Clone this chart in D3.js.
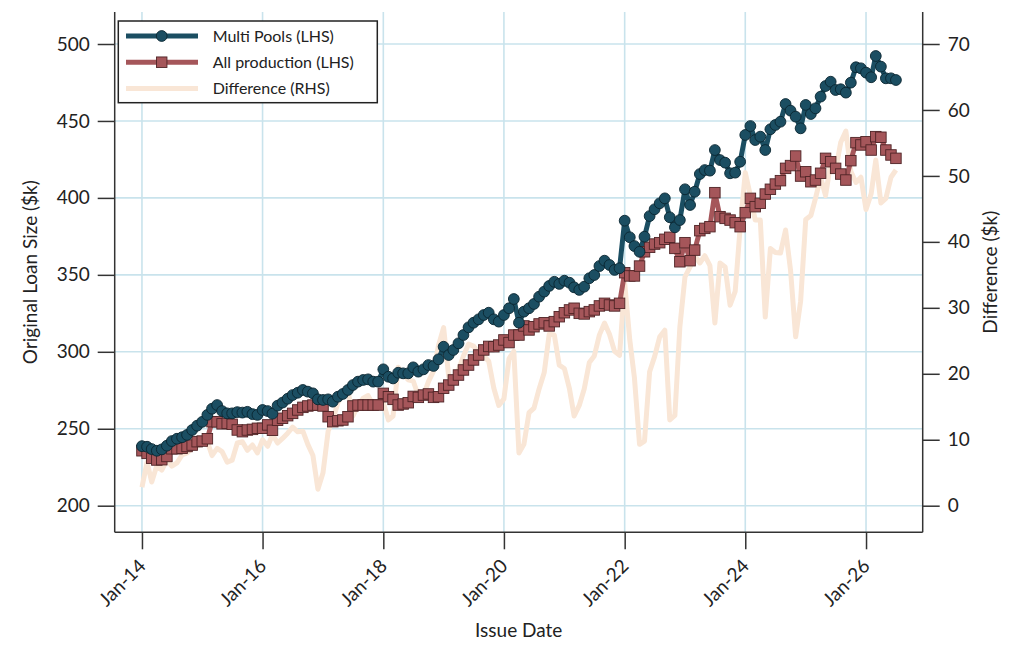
<!DOCTYPE html>
<html lang="en">
<head>
<meta charset="UTF-8">
<title>Original Loan Size: Multi Pools vs All production</title>
<script src="https://d3js.org/d3.v7.min.js"></script>
<style>
  html, body { margin: 0; padding: 0; background: #fff; }
  svg text { font-family: Lato, "Open Sans", "DejaVu Sans", sans-serif; fill: #222; }
</style>
</head>
<body>
<div id="chart"></div>
<script>
// Monthly series, Jan-14 .. Jul-26 ($k)
const firstMonth = new Date(2014, 0, 1);
const lastMonth = new Date(2026, 6, 1);

const multiPools = [
  238.7, 238.3, 236.8, 235.7, 236.6, 239.0, 242.0, 243.5, 244.5, 246.0, 249.2, 252.0,
  254.5, 259.0, 263.0, 265.4, 261.5, 260.0, 260.0, 260.8, 260.5, 261.0, 259.5, 259.0,
  262.2, 261.5, 259.8, 265.0, 267.0, 269.5, 271.9, 273.4, 275.2, 274.1, 273.0, 269.1,
  268.7, 269.1, 267.6, 270.8, 272.6, 275.2, 278.4, 280.6, 281.7, 282.1, 280.6, 280.6,
  288.6, 283.8, 282.7, 286.4, 286.0, 286.0, 289.9, 287.1, 288.6, 291.4, 290.8, 295.1,
  303.3, 297.9, 301.2, 305.5, 310.9, 315.9, 318.9, 321.1, 323.9, 325.4, 321.1, 319.6,
  323.9, 328.3, 334.3, 318.9, 326.1, 328.3, 331.1, 335.8, 339.1, 342.8, 345.5, 344.1,
  346.2, 344.9, 341.9, 340.2, 342.3, 347.8, 349.9, 355.7, 359.2, 356.4, 353.2, 354.3,
  385.2, 374.4, 368.7, 365.0, 374.8, 388.2, 392.6, 396.5, 399.7, 387.4, 380.9, 385.6,
  405.6, 395.4, 404.0, 415.5, 418.1, 417.7, 431.1, 424.6, 422.9, 416.0, 416.4, 423.5,
  440.9, 446.7, 437.6, 439.8, 431.1, 444.6, 447.4, 449.5, 461.0, 456.7, 452.8, 445.2,
  460.4, 454.5, 458.2, 465.8, 472.7, 475.5, 470.1, 470.6, 468.4, 474.9, 484.9, 484.2,
  481.4, 478.4, 492.2, 485.3, 477.7, 477.7, 476.6
];

const allProduction = [
  235.7, 234.0, 230.8, 229.7, 229.9, 232.0, 237.0, 237.0, 237.3, 238.5, 239.4, 241.6,
  242.0, 243.5, 254.6, 254.5, 253.2, 253.5, 252.9, 249.2, 248.1, 249.2, 249.6, 250.3,
  250.3, 252.5, 249.0, 255.5, 256.8, 258.5, 260.0, 262.2, 263.9, 264.8, 265.4, 265.4,
  264.8, 257.8, 254.6, 255.2, 255.7, 257.8, 264.8, 265.4, 265.4, 265.4, 265.4, 265.4,
  273.0, 270.8, 269.1, 265.4, 266.1, 266.9, 271.0, 270.4, 271.9, 272.6, 270.4, 270.8,
  276.3, 278.4, 281.7, 284.9, 288.2, 291.4, 294.7, 297.9, 301.2, 303.5, 303.3, 304.4,
  307.7, 306.0, 310.9, 310.9, 316.8, 314.2, 316.3, 318.1, 318.9, 316.8, 319.6, 322.8,
  325.4, 327.2, 328.3, 325.0, 324.6, 326.1, 327.2, 329.8, 331.5, 330.4, 329.8, 331.5,
  351.4, 349.3, 349.3, 355.7, 365.0, 367.9, 370.0, 370.9, 373.1, 374.4, 367.2, 358.5,
  370.9, 359.2, 366.1, 378.7, 380.2, 381.3, 403.4, 387.8, 386.7, 385.6, 383.9, 381.3,
  390.4, 399.7, 394.3, 396.5, 402.5, 405.6, 409.0, 411.2, 419.2, 421.0, 427.2, 414.2,
  417.0, 410.5, 411.6, 416.0, 425.7, 423.5, 419.2, 415.5, 411.6, 424.2, 435.9, 434.4,
  436.5, 431.1, 439.8, 439.4, 431.1, 427.9, 425.7
];

const difference = [
  2.8, 6.6, 3.6, 6.1, 5.4, 6.9, 6.0, 6.5, 7.7, 8.0, 8.7, 9.0,
  9.5, 9.7, 7.6, 8.7, 8.2, 6.6, 6.9, 9.5, 9.7, 8.4, 9.2, 8.0,
  10.0, 9.0, 10.8, 9.5, 10.2, 11.0, 11.9, 11.2, 11.3, 9.3, 7.6, 2.5,
  5.0, 11.3, 13.0, 15.6, 16.9, 17.4, 13.6, 15.2, 16.3, 16.7, 15.2, 15.2,
  15.6, 13.0, 13.6, 21.0, 19.9, 19.1, 18.9, 16.7, 16.7, 18.8, 20.4, 24.3,
  27.0, 19.5, 19.5, 20.6, 22.7, 24.5, 24.2, 23.2, 22.7, 21.9, 17.8, 15.2,
  16.2, 22.3, 23.4, 8.0, 9.3, 14.1, 14.8, 17.7, 20.2, 26.0, 25.9, 21.3,
  20.8, 17.7, 13.6, 15.2, 17.7, 21.7, 22.7, 25.9, 27.7, 26.0, 23.4, 22.8,
  33.8, 25.1, 19.4, 9.3, 9.8, 20.3, 22.6, 25.6, 26.6, 13.0, 13.7, 27.1,
  34.7, 36.2, 37.9, 36.8, 37.9, 36.4, 27.7, 36.8, 36.2, 30.4, 32.5, 42.2,
  50.5, 47.0, 43.3, 43.3, 28.6, 39.0, 38.4, 38.3, 41.8, 35.7, 25.6, 31.0,
  43.4, 44.0, 46.6, 49.8, 47.0, 52.0, 50.9, 55.1, 56.8, 50.7, 49.0, 49.8,
  44.9, 47.3, 52.4, 45.9, 46.6, 49.8, 50.9
];

const xTickYears = [2014, 2016, 2018, 2020, 2022, 2024, 2026];
const leftTicks = [200, 250, 300, 350, 400, 450, 500];
const rightTicks = [0, 10, 20, 30, 40, 50, 60, 70];
const legendLabels = ["Multi Pools (LHS)", "All production (LHS)", "Difference (RHS)"];

const months = d3.timeMonth.range(firstMonth, d3.timeMonth.offset(lastMonth, 1));
const rows = months.map((m, i) => ({
  date: m,
  multi: multiPools[i],
  all: allProduction[i],
  diff: difference[i]
}));

// Layout
const W = 1024, H = 665;
const plot = { left: 114.7, right: 922.7, top: 12, bottom: 532.3 };

const colors = {
  multi: "#1b4e62", multiEdge: "#0a2631",
  all: "#a5565a", allEdge: "#4f2426",
  diff: "#f9e6d6",
  grid: "#c9e3ec", axis: "#333"
};

const svg = d3.select("#chart").append("svg")
  .attr("width", W).attr("height", H);

const x = d3.scaleTime()
  .domain([new Date(2013, 6, 20), new Date(2026, 11, 10)])
  .range([plot.left, plot.right]);

const yL = d3.scaleLinear()
  .domain([200 - (plot.bottom - 505.7) / 1.539, 500 + (44 - plot.top) / 1.539])
  .range([plot.bottom, plot.top]);

const yR = d3.scaleLinear()
  .domain([0 - (plot.bottom - 505.7) / 6.596, 70 + (44 - plot.top) / 6.596])
  .range([plot.bottom, plot.top]);

const xTicks = xTickYears.map(y => new Date(y, 0, 1));

// Gridlines
const grid = svg.append("g");
grid.selectAll(".gv").data(xTicks).join("line")
  .attr("x1", d => x(d)).attr("x2", d => x(d))
  .attr("y1", plot.top).attr("y2", plot.bottom)
  .attr("stroke", colors.grid).attr("stroke-width", 1.6);
grid.selectAll(".gh").data(leftTicks).join("line")
  .attr("x1", plot.left).attr("x2", plot.right)
  .attr("y1", d => yL(d)).attr("y2", d => yL(d))
  .attr("stroke", colors.grid).attr("stroke-width", 1.6);

// Difference (RHS), drawn underneath
svg.append("path")
  .datum(rows)
  .attr("fill", "none")
  .attr("stroke", colors.diff)
  .attr("stroke-width", 5)
  .attr("stroke-linejoin", "round")
  .attr("d", d3.line().x(d => x(d.date)).y(d => yR(d.diff)));

// All production (LHS)
svg.append("path")
  .datum(rows)
  .attr("fill", "none")
  .attr("stroke", colors.all)
  .attr("stroke-width", 5)
  .attr("stroke-linejoin", "round")
  .attr("d", d3.line().x(d => x(d.date)).y(d => yL(d.all)));

// Multi Pools (LHS)
svg.append("path")
  .datum(rows)
  .attr("fill", "none")
  .attr("stroke", colors.multi)
  .attr("stroke-width", 5)
  .attr("stroke-linejoin", "round")
  .attr("d", d3.line().x(d => x(d.date)).y(d => yL(d.multi)));

const sq = 10.5;
svg.append("g").selectAll("rect").data(rows).join("rect")
  .attr("x", d => x(d.date) - sq / 2)
  .attr("y", d => yL(d.all) - sq / 2)
  .attr("width", sq).attr("height", sq)
  .attr("fill", colors.all)
  .attr("stroke", colors.allEdge).attr("stroke-width", 0.9);

svg.append("g").selectAll("circle").data(rows).join("circle")
  .attr("cx", d => x(d.date))
  .attr("cy", d => yL(d.multi))
  .attr("r", 5.4)
  .attr("fill", colors.multi)
  .attr("stroke", colors.multiEdge).attr("stroke-width", 0.9);

// Axes
const styleAxis = g => {
  g.select(".domain").remove();
  g.selectAll(".tick line").attr("stroke", colors.axis).attr("stroke-width", 1.5);
  g.selectAll(".tick text").attr("font-size", 19).attr("fill", "#222");
};

svg.append("g")
  .attr("transform", `translate(${plot.left},0)`)
  .call(d3.axisLeft(yL).tickValues(leftTicks).tickSize(17).tickPadding(8))
  .call(styleAxis);

svg.append("g")
  .attr("transform", `translate(${plot.right},0)`)
  .call(d3.axisRight(yR).tickValues(rightTicks).tickSize(17).tickPadding(8))
  .call(styleAxis);

const xAxis = svg.append("g")
  .attr("transform", `translate(0,${plot.bottom})`)
  .call(d3.axisBottom(x).tickValues(xTicks).tickSize(17).tickFormat(d3.timeFormat("%b-%y")))
  .call(styleAxis);
xAxis.selectAll(".tick text")
  .attr("text-anchor", "end")
  .attr("dy", 0)
  .attr("y", 0)
  .attr("transform", "translate(4.5,35) rotate(-45)");

// Frame: left, bottom, right
const frame = svg.append("g").attr("stroke", colors.axis).attr("stroke-width", 1.5);
frame.append("line").attr("x1", plot.left).attr("x2", plot.left).attr("y1", plot.top).attr("y2", plot.bottom);
frame.append("line").attr("x1", plot.right).attr("x2", plot.right).attr("y1", plot.top).attr("y2", plot.bottom);
frame.append("line").attr("x1", plot.left).attr("x2", plot.right).attr("y1", plot.bottom).attr("y2", plot.bottom);

// Axis titles
svg.append("text")
  .attr("x", (plot.left + plot.right) / 2).attr("y", 637)
  .attr("text-anchor", "middle").attr("font-size", 19)
  .text("Issue Date");
svg.append("text")
  .attr("transform", `translate(37,${(plot.top + plot.bottom) / 2}) rotate(-90)`)
  .attr("text-anchor", "middle").attr("font-size", 19)
  .text("Original Loan Size ($k)");
svg.append("text")
  .attr("transform", `translate(997,${(plot.top + plot.bottom) / 2}) rotate(-90)`)
  .attr("text-anchor", "middle").attr("font-size", 19)
  .text("Difference ($k)");

// Legend
const legend = svg.append("g");
legend.append("rect")
  .attr("x", 118.3).attr("y", 21).attr("width", 259).attr("height", 81.7)
  .attr("fill", "#fff").attr("stroke", "#222").attr("stroke-width", 1.5);

const legendRows = [
  { label: legendLabels[0], color: colors.multi, edge: colors.multiEdge, marker: "circle" },
  { label: legendLabels[1], color: colors.all, edge: colors.allEdge, marker: "square" },
  { label: legendLabels[2], color: colors.diff, edge: null, marker: null }
];
legendRows.forEach((r, i) => {
  const ly = 36 + i * 26.2;
  legend.append("line")
    .attr("x1", 126).attr("x2", 198).attr("y1", ly).attr("y2", ly)
    .attr("stroke", r.color).attr("stroke-width", 5);
  if (r.marker === "circle") {
    legend.append("circle").attr("cx", 161.7).attr("cy", ly).attr("r", 5.4)
      .attr("fill", r.color).attr("stroke", r.edge).attr("stroke-width", 0.9);
  } else if (r.marker === "square") {
    legend.append("rect").attr("x", 161.7 - sq / 2).attr("y", ly - sq / 2)
      .attr("width", sq).attr("height", sq)
      .attr("fill", r.color).attr("stroke", r.edge).attr("stroke-width", 0.9);
  }
  legend.append("text")
    .attr("x", 212.7).attr("y", ly).attr("dy", "0.35em")
    .attr("font-size", 16)
    .text(r.label);
});
</script>
</body>
</html>
